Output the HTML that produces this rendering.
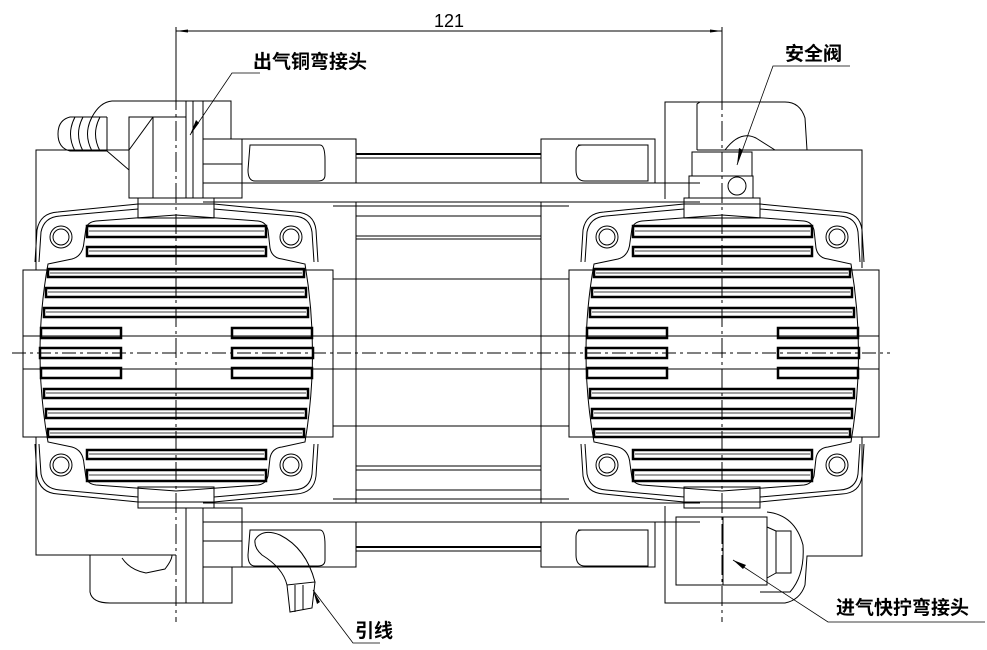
<!DOCTYPE html>
<html><head><meta charset="utf-8"><style>
html,body{margin:0;padding:0;background:#fff;}
svg{display:block;}
text{font-family:"Liberation Sans","Noto Sans CJK SC",sans-serif;fill:#000;}
</style></head><body>
<svg width="987" height="650" viewBox="0 0 987 650" xmlns="http://www.w3.org/2000/svg">
<defs>
<g id="head" fill="none" stroke="#000" stroke-width="1">
  <rect x="23" y="270" width="310" height="167"/>
  <line x1="23" y1="336" x2="333" y2="336"/>
  <line x1="23" y1="369" x2="333" y2="369"/>
  <path d="M35,262 L37,230 Q40,213 58,212 L138,204 L214,204 L296,212 Q314,213 316,230 L318,262"/>
  <path d="M39,262 L41,232 Q44,217 60,216 L138,209 M214,209 L294,216 Q310,217 312,232 L314,262"/>
  <path d="M35,444 L37,476 Q40,493 58,494 L138,502 L214,502 L296,494 Q314,493 316,476 L318,444"/>
  <path d="M39,444 L41,474 Q44,489 60,490 L138,497 M214,497 L294,490 Q310,489 312,474 L314,444"/>
  <path d="M48,264 L72,259 Q83,256 84,242 L86,228 Q88,222 96,221 L176,215 L258,221 Q266,222 268,230 L270,248 Q272,258 282,259 L305,264 Q320,353 305,442 L282,447 Q272,448 270,458 L268,476 Q266,484 258,485 L176,491 L96,485 Q88,484 86,478 L84,464 Q83,450 72,447 L48,442 Q32,353 48,264 Z"/>
  <circle cx="61" cy="237" r="11"/><circle cx="61" cy="237" r="8"/>
  <circle cx="291" cy="237" r="11"/><circle cx="291" cy="237" r="8"/>
  <circle cx="61" cy="465" r="11"/><circle cx="61" cy="465" r="8"/>
  <circle cx="291" cy="465" r="11"/><circle cx="291" cy="465" r="8"/>
  <rect x="138" y="198" width="76" height="20"/>
  <rect x="138" y="487" width="76" height="21"/>
  <g stroke-width="2.5">
    <rect x="87" y="226" width="179" height="11"/>
    <rect x="87" y="247" width="179" height="9"/>
    <rect x="48" y="269" width="256" height="8"/>
    <rect x="46" y="288" width="260" height="9"/>
    <rect x="44" y="308" width="264" height="9"/>
    <rect x="41" y="328" width="80" height="10"/>
    <rect x="232" y="328" width="80" height="10"/>
    <rect x="40" y="348" width="81" height="10"/>
    <rect x="232" y="348" width="81" height="10"/>
    <rect x="41" y="368" width="80" height="10"/>
    <rect x="232" y="368" width="80" height="10"/>
    <rect x="44" y="389" width="264" height="9"/>
    <rect x="46" y="409" width="260" height="9"/>
    <rect x="48" y="429" width="256" height="8"/>
    <rect x="87" y="450" width="179" height="9"/>
    <rect x="87" y="470" width="179" height="11"/>
  </g>
  <g stroke-width="0.8">
    <line x1="89" y1="231" x2="264" y2="231"/><line x1="89" y1="251" x2="264" y2="251"/>
    <line x1="50" y1="273" x2="302" y2="273"/><line x1="48" y1="292" x2="304" y2="292"/>
    <line x1="46" y1="312" x2="306" y2="312"/><line x1="46" y1="393" x2="306" y2="393"/>
    <line x1="48" y1="413" x2="304" y2="413"/><line x1="50" y1="433" x2="302" y2="433"/>
    <line x1="89" y1="454" x2="264" y2="454"/><line x1="89" y1="475" x2="264" y2="475"/>
  </g>
</g>
</defs>

<g fill="none" stroke="#000" stroke-width="1">
  <rect x="242" y="139" width="114" height="44"/>
  <rect x="541" y="139" width="114" height="44"/>
  <rect x="242" y="522" width="114" height="45"/>
  <rect x="541" y="522" width="114" height="45"/>
  <path d="M250,145 L320,145 Q325,145 325,160 L325,175 Q325,181 318,181 L255,181 Q248,181 248,170 Z"/>
  <path d="M578,145 L648,145 L648,181 L585,181 Q576,181 576,170 L576,152 Q576,145 582,145"/>
  <path d="M250,530 L320,530 Q325,530 325,545 L325,560 Q325,566 318,566 L255,566 Q248,566 248,555 Z"/>
  <path d="M578,530 L648,530 L648,566 L585,566 Q576,566 576,555 L576,537 Q576,530 582,530"/>
  <line x1="356" y1="154" x2="541" y2="154" stroke-width="2"/>
  <line x1="356" y1="158" x2="541" y2="158"/>
  <line x1="356" y1="547" x2="541" y2="547" stroke-width="2"/>
  <line x1="356" y1="551" x2="541" y2="551"/>
  <line x1="203" y1="183" x2="700" y2="183"/>
  <line x1="203" y1="202" x2="700" y2="202"/>
  <line x1="203" y1="503" x2="700" y2="503"/>
  <line x1="203" y1="522" x2="700" y2="522"/>
  <line x1="333" y1="206" x2="569" y2="206"/>
  <line x1="356" y1="216" x2="541" y2="216"/>
  <line x1="356" y1="236" x2="541" y2="236"/>
  <line x1="356" y1="239" x2="541" y2="239"/>
  <line x1="356" y1="466" x2="541" y2="466"/>
  <line x1="356" y1="470" x2="541" y2="470"/>
  <line x1="356" y1="490" x2="541" y2="490"/>
  <line x1="333" y1="499" x2="569" y2="499"/>
  <line x1="356" y1="202" x2="356" y2="503"/>
  <line x1="541" y1="202" x2="541" y2="503"/>
  <rect x="333" y="279" width="236" height="57"/>
  <rect x="333" y="369" width="236" height="57"/>
</g>

<use href="#head"/>
<use href="#head" transform="translate(546,0)"/>

<g fill="none" stroke="#000" stroke-width="1">
  <path d="M36,270 L36,150 L129,150"/>
  <rect x="129" y="117" width="57" height="81"/>
  <line x1="153" y1="117" x2="153" y2="198"/>
  <line x1="129" y1="150" x2="153" y2="117"/>
  <rect x="186" y="101" width="17" height="97"/>
  <line x1="193" y1="101" x2="193" y2="198"/>
  <path d="M203,101 L231,101 L231,139"/>
  <rect x="203" y="139" width="39" height="59"/>
  <line x1="203" y1="164" x2="242" y2="164"/>
  <path d="M107,117 L107,151 M107,151 L129,170 M92,117 Q100,102 112,101 L186,101"/>
  <path d="M107,117 L70,117 Q58,120 58,134 Q58,148 70,151 L107,151"/>
  <path d="M75,117 Q66,134 75,151 M83,117 Q74,134 83,151 M92,117 Q83,134 92,151 M100,117 Q91,134 100,151"/>
  <path d="M36,437 L36,555 L176,555"/>
  <rect x="186" y="508" width="17" height="95"/>
  <rect x="203" y="508" width="39" height="59"/>
  <line x1="203" y1="541" x2="242" y2="541"/>
  <path d="M90,555 L90,592 Q92,603 110,603 L232,603 L232,567"/>
  <path d="M122,558 Q130,570 146,573 L165,569 Q172,560 172,555"/>
  <path d="M255,540 Q262,528 280,535 Q306,548 315,582 L287,585 Q283,568 262,555 Q254,548 255,540 Z"/>
  <path d="M287,585 L290,612 L312,608 L315,582 M295,585 L295,612 M303,585 L303,610"/>
  <path d="M665,199 L665,102 L785,102 Q800,102 805,118 L807,150"/>
  <path d="M697,150 L697,104 L700,102 M697,150 L862,150 L862,268"/>
  <rect x="692" y="152" width="60" height="24"/>
  <rect x="689" y="176" width="64" height="22"/>
  <circle cx="737" cy="186" r="9"/>
  <path d="M725,150 Q740,130 756,138 L775,150"/>
  <path d="M665,506 L665,603 L785,603 Q800,600 805,585 L807,556 L862,556 L862,437"/>
  <rect x="676" y="517" width="91" height="68"/>
  <line x1="723" y1="517" x2="723" y2="585"/>
  <path d="M767,512 Q795,515 803,545 Q805,575 790,592 L760,592"/>
  <rect x="776" y="531" width="15" height="42"/>
  <path d="M767,527 L776,531 M767,578 L776,573"/>
</g>

<g stroke="#000" stroke-width="1" fill="none" stroke-dasharray="14,4,3,4">
  <line x1="12" y1="353" x2="890" y2="353"/>
</g>
<g stroke="#000" stroke-width="1" fill="none" stroke-dasharray="20,4,3,4">
  <line x1="176" y1="90" x2="176" y2="622"/>
  <line x1="722" y1="90" x2="722" y2="622"/>
</g>

<g stroke="#000" stroke-width="1" fill="none">
  <line x1="176" y1="27" x2="176" y2="90"/>
  <line x1="722" y1="27" x2="722" y2="90"/>
  <line x1="176" y1="31" x2="722" y2="31"/>
</g>
<path d="M176,31 L188,29.5 L188,32.5 Z M722,31 L710,29.5 L710,32.5 Z" fill="#000"/>
<text x="449" y="27" font-size="18" text-anchor="middle">121</text>

<g stroke="#000" stroke-width="0.8" fill="none">
  <path d="M260,73 L232,73 L190,135"/>
  <path d="M850,66 L773,66 L737,165"/>
  <path d="M985,622 L828,622 L733,560"/>
  <path d="M380,643 L353,643 L313,590"/>
</g>
<path d="M190,135 L196,120 L199,123 Z M737,165 L739,148 L743,150 Z M733,560 L746,565 L743,569 Z M313,590 L320,602 L317,604 Z" fill="#000"/>
<g font-weight="bold">
<text x="253" y="68" font-size="19">出气铜弯接头</text>
<text x="785" y="60" font-size="19">安全阀</text>
<text x="836" y="614" font-size="19">进气快拧弯接头</text>
<text x="355" y="637" font-size="19">引线</text>
</g>
</svg>
</body></html>
